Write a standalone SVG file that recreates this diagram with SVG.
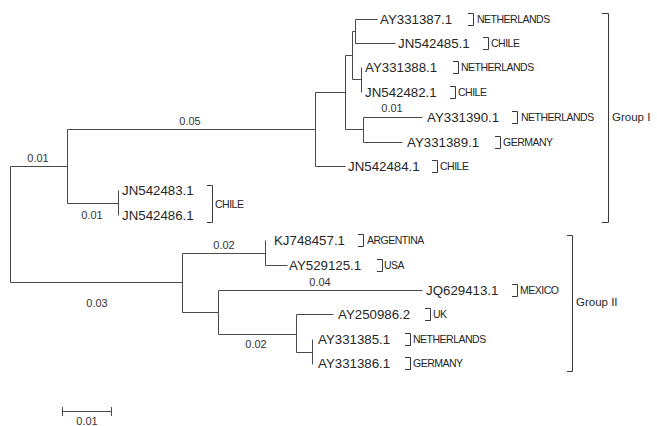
<svg xmlns="http://www.w3.org/2000/svg" width="657" height="426" viewBox="0 0 657 426">
  <style>
    .edge { fill: none; stroke: #4a4a4a; stroke-width: 1; }
    .brk { fill: none; stroke: #3a3a3a; stroke-width: 1; }
    .acc { font-family: "Liberation Sans", Arial, sans-serif; font-size: 13.3px; fill: #262626; }
    .ctry { font-family: "Liberation Sans", Arial, sans-serif; font-size: 10.5px; letter-spacing: -0.5px; fill: #262626; }
    .len { font-family: "Liberation Sans", Arial, sans-serif; font-size: 11px; fill: #333; text-anchor: middle; }
    .grp { font-family: "Liberation Sans", Arial, sans-serif; font-size: 11.5px; fill: #262626; }
  </style>
  <rect width="657" height="426" fill="#ffffff"/>

  <!-- branches of the tree -->
  <g id="connectors" class="edge">
    <!-- root -->
    <path d="M10.5,166.5 V282.5 M10.5,166.5 H67.5 M10.5,282.5 H182.5"/>
    <!-- upper clade -->
    <path d="M67.5,129.5 V203.5 M67.5,129.5 H315.5 M67.5,203.5 H118.5"/>
    <path d="M118.5,190.5 V215.5"/>
    <!-- Group I -->
    <path d="M315.5,92.5 V166.5 M315.5,92.5 H345.5 M315.5,166.5 H345.5"/>
    <path d="M345.5,55.5 V129.5 M345.5,55.5 H352.5 M345.5,129.5 H363.5"/>
    <path d="M352.5,31.5 V79.5 M352.5,31.5 H355.5 M352.5,79.5 H361.5"/>
    <path d="M355.5,19.5 V43.5 M355.5,19.5 H377.5 M355.5,43.5 H395.5"/>
    <path d="M361.5,67.5 V92.5"/>
    <path d="M363.5,117.5 V142.5 M363.5,117.5 H422.5 M363.5,142.5 H402.5"/>
    <!-- Group II -->
    <path d="M182.5,253.5 V312.5 M182.5,253.5 H265.5 M182.5,312.5 H218.5"/>
    <path d="M265.5,240.5 V265.5 M265.5,265.5 H287.5"/>
    <path d="M218.5,290.5 V334.5 M218.5,290.5 H422.5 M218.5,334.5 H296.5"/>
    <path d="M296.5,314.5 V352.5 M296.5,314.5 H333.5 M296.5,352.5 H312.5"/>
    <path d="M312.5,339.5 V364.5"/>
  </g>

  <!-- branch lengths -->
  <g id="branch-lengths">
    <text class="len" x="38" y="162">0.01</text>
    <text class="len" x="190" y="125">0.05</text>
    <text class="len" x="92" y="219">0.01</text>
    <text class="len" x="392" y="112">0.01</text>
    <text class="len" x="97" y="307">0.03</text>
    <text class="len" x="224" y="249">0.02</text>
    <text class="len" x="320" y="286">0.04</text>
    <text class="len" x="256" y="348">0.02</text>
  </g>

  <!-- leaves: accession, bracket, country -->
  <g id="AY331387.1">
    <text class="acc" x="380" y="24">AY331387.1</text>
    <path class="brk" d="M468,13.5 H473.5 V25.5 H468"/>
    <text class="ctry" x="477" y="23">NETHERLANDS</text>
  </g>
  <g id="JN542485.1">
    <text class="acc" x="398" y="48">JN542485.1</text>
    <path class="brk" d="M483,37.5 H488.5 V49.5 H483"/>
    <text class="ctry" x="491" y="47">CHILE</text>
  </g>
  <g id="AY331388.1">
    <text class="acc" x="365" y="72">AY331388.1</text>
    <path class="brk" d="M453,61.5 H458.5 V73.5 H453"/>
    <text class="ctry" x="461" y="71">NETHERLANDS</text>
  </g>
  <g id="JN542482.1">
    <text class="acc" x="365" y="97">JN542482.1</text>
    <path class="brk" d="M450,86.5 H455.5 V98.5 H450"/>
    <text class="ctry" x="458" y="96">CHILE</text>
  </g>
  <g id="AY331390.1">
    <text class="acc" x="427" y="122">AY331390.1</text>
    <path class="brk" d="M512,111.5 H517.5 V123.5 H512"/>
    <text class="ctry" x="521" y="121">NETHERLANDS</text>
  </g>
  <g id="AY331389.1">
    <text class="acc" x="407" y="147">AY331389.1</text>
    <path class="brk" d="M495,136.5 H500.5 V148.5 H495"/>
    <text class="ctry" x="503" y="146">GERMANY</text>
  </g>
  <g id="JN542484.1">
    <text class="acc" x="348" y="171">JN542484.1</text>
    <path class="brk" d="M432,160.5 H437.5 V172.5 H432"/>
    <text class="ctry" x="440" y="170">CHILE</text>
  </g>
  <g id="JN542483.1">
    <text class="acc" x="122" y="195">JN542483.1</text>
  </g>
  <g id="JN542486.1">
    <text class="acc" x="122" y="220">JN542486.1</text>
  </g>
  <g id="chile-pair">
    <path class="brk" d="M207,185.5 H212.5 V222.5 H207"/>
    <text class="ctry" x="215" y="208">CHILE</text>
  </g>
  <g id="KJ748457.1">
    <text class="acc" x="274" y="245">KJ748457.1</text>
    <path class="brk" d="M358,234.5 H363.5 V246.5 H358"/>
    <text class="ctry" x="367" y="244">ARGENTINA</text>
  </g>
  <g id="AY529125.1">
    <text class="acc" x="289" y="270">AY529125.1</text>
    <path class="brk" d="M377,259.5 H382.5 V271.5 H377"/>
    <text class="ctry" x="384" y="269">USA</text>
  </g>
  <g id="JQ629413.1">
    <text class="acc" x="426" y="295">JQ629413.1</text>
    <path class="brk" d="M512,284.5 H517.5 V296.5 H512"/>
    <text class="ctry" x="520" y="294">MEXICO</text>
  </g>
  <g id="AY250986.2">
    <text class="acc" x="338" y="319">AY250986.2</text>
    <path class="brk" d="M425,308.5 H430.5 V320.5 H425"/>
    <text class="ctry" x="433" y="318">UK</text>
  </g>
  <g id="AY331385.1">
    <text class="acc" x="318" y="344">AY331385.1</text>
    <path class="brk" d="M405,333.5 H410.5 V345.5 H405"/>
    <text class="ctry" x="413" y="343">NETHERLANDS</text>
  </g>
  <g id="AY331386.1">
    <text class="acc" x="318" y="368">AY331386.1</text>
    <path class="brk" d="M405,357.5 H410.5 V369.5 H405"/>
    <text class="ctry" x="413" y="367">GERMANY</text>
  </g>

  <!-- group brackets -->
  <g id="group-1">
    <path class="brk" d="M602,13.5 H608.5 V222.5 H602"/>
    <text class="grp" x="612" y="121">Group I</text>
  </g>
  <g id="group-2">
    <path class="brk" d="M567,235.5 H572.5 V371.5 H567"/>
    <text class="grp" x="576" y="306">Group II</text>
  </g>

  <!-- scale bar -->
  <g id="scale-bar">
    <path class="edge" d="M62.5,411.5 H111.5 M62.5,407 V416 M111.5,407 V416"/>
    <text class="len" x="87" y="425">0.01</text>
  </g>
</svg>
